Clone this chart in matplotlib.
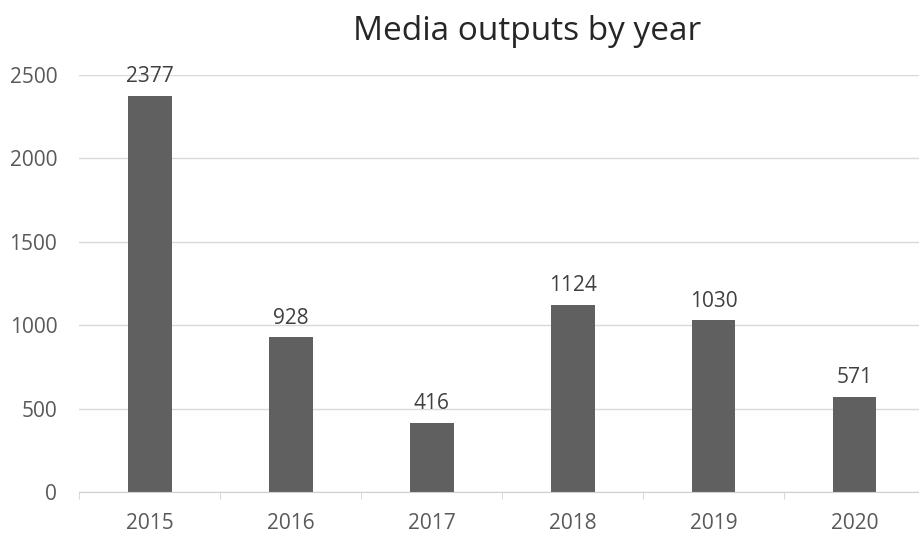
import numpy as np
import matplotlib.pyplot as plt
from matplotlib.ticker import FixedLocator

years = ['2015', '2016', '2017', '2018', '2019', '2020']
outputs = [2377, 928, 416, 1124, 1030, 571]

plt.rcParams['font.family'] = ['Open Sans', 'DejaVu Sans']

fig = plt.figure(figsize=(9.2, 5.34), dpi=100)
ax = fig.add_axes([79.5/920, 42/534, 845.5/920, 417/534])

x = np.arange(len(years))
ax.bar(x, outputs, width=0.31, color='#606060', zorder=3)
for xi, v in zip(x, outputs):
    ax.annotate(str(v), (xi, v), xytext=(0, 6), textcoords='offset points',
                ha='center', va='bottom', fontsize=15, color='#404040')

ax.set_xlim(-0.5, len(years) - 0.5)
ax.set_ylim(0, 2500)
ax.set_yticks(np.arange(0, 2501, 500))
ax.set_xticks(x)
ax.set_xticklabels(years)
ax.xaxis.set_minor_locator(FixedLocator(np.arange(-0.5, len(years), 1.0)))

ax.grid(axis='y', color='#d9d9d9', linewidth=1, zorder=0)
for s in ['top', 'right', 'left']:
    ax.spines[s].set_visible(False)
ax.spines['bottom'].set_color('#d0d0d0')
ax.spines['bottom'].set_zorder(4)

ax.tick_params(axis='y', length=0, pad=16, labelsize=15, labelcolor='#595959')
ax.tick_params(axis='x', which='major', length=0, pad=15, labelsize=15, labelcolor='#595959')
ax.tick_params(axis='x', which='minor', length=5, color='#d0d0d0')

fig.text(527/920, 1 - 31/534, 'Media outputs by year', ha='center', va='center',
         fontsize=24, color='#262626')

fig.savefig('out.png')
